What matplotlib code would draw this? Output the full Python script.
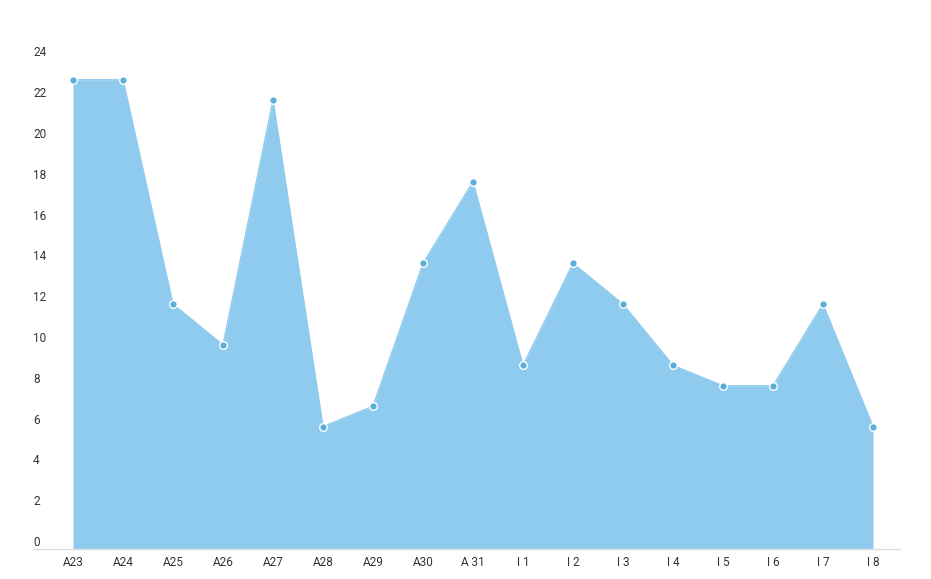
import numpy as np
import matplotlib
matplotlib.use("Agg")
import matplotlib.pyplot as plt

plt.rcParams['font.family'] = ['Roboto', 'DejaVu Sans']

categories = ['A23', 'A24', 'A25', 'A26', 'A27', 'A28', 'A29', 'A30', 'A 31',
              'I 1', 'I 2', 'I 3', 'I 4', 'I 5', 'I 6', 'I 7', 'I 8']
values = [23, 23, 12, 10, 22, 6, 7, 14, 18, 9, 14, 12, 9, 8, 8, 12, 6]
y_ticks = list(range(0, 25, 2))

fill_color = '#8fcbee'
point_color = '#5aaed8'

fig = plt.figure(figsize=(9.31, 5.79), dpi=100)
ax = fig.add_axes([33 / 931, 30 / 579, (900 - 33) / 931, 510 / 579])

x = np.arange(len(categories))
ax.fill_between(x, values, 0, color=fill_color, linewidth=0)
ax.plot(x, values, color=fill_color, linewidth=1)
ax.scatter(x, values, s=30, color=point_color, edgecolor='white', linewidth=1, zorder=3)

ax.set_xlim(-0.8, len(categories) - 1 + 0.54)
ax.set_ylim(0, 25)

ax.set_xticks(x)
ax.set_xticklabels(categories)
ax.set_yticks(y_ticks)
ax.set_yticklabels([str(t) for t in y_ticks])

ax.tick_params(axis='x', length=0, pad=5, labelsize=8.5, labelcolor='#333333')
ax.tick_params(axis='y', length=0, pad=0, labelsize=8.5, labelcolor='#333333')
for lbl in ax.get_yticklabels():
    lbl.set_horizontalalignment('left')
    lbl.set_verticalalignment('bottom')

for side in ['top', 'right', 'left']:
    ax.spines[side].set_visible(False)
ax.spines['bottom'].set_color('#dddddd')
ax.spines['bottom'].set_linewidth(1)

fig.savefig('out.png', dpi=100)
